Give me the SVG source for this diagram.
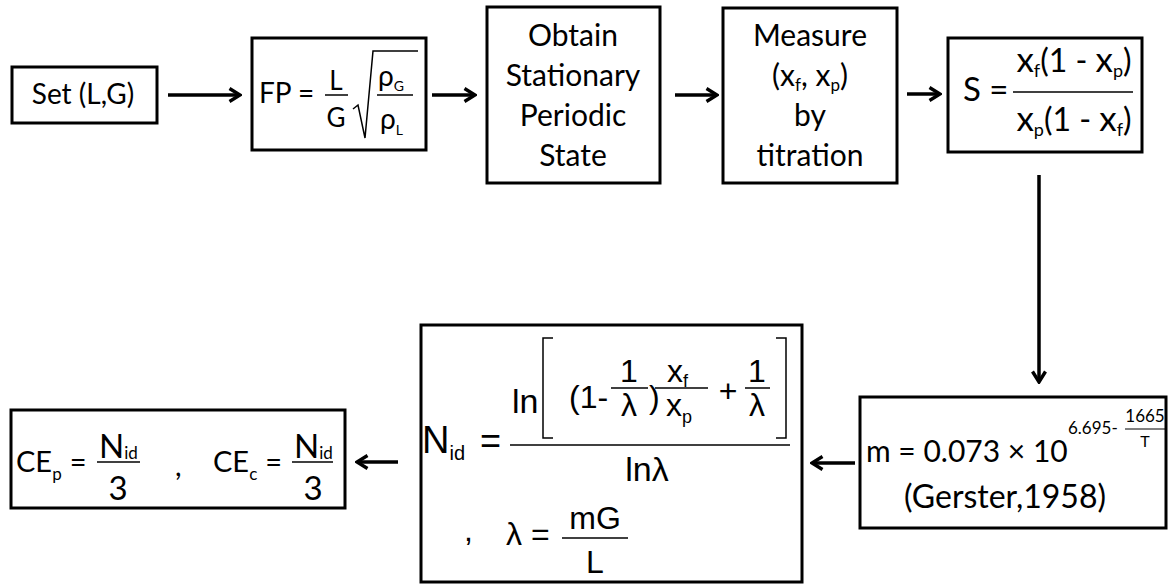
<svg xmlns="http://www.w3.org/2000/svg" width="1168" height="584" viewBox="0 0 1168 584">
<style>
.box{fill:#fff;stroke:#000;stroke-width:3}
.t{font-family:Lato,"Liberation Sans",sans-serif;fill:#000}
.a{font-family:"Liberation Sans",Arial,sans-serif;fill:#000}
.fl{stroke:#000;stroke-width:1.5;fill:none}
.conn{stroke:#000;stroke-width:3.5;fill:none}
</style>
<defs>
<marker id="ah" viewBox="0 0 14 16" refX="12" refY="8" markerWidth="14" markerHeight="16" markerUnits="userSpaceOnUse" orient="auto">
<path d="M1.5,1.5 L12,8 L1.5,14.5" fill="none" stroke="#000" stroke-width="3.4" stroke-linejoin="miter"/>
</marker>
</defs>
<rect width="1168" height="584" fill="#fff"/>
<g id="connectors">
<line class="conn" x1="168" y1="95" x2="240" y2="95" marker-end="url(#ah)"/>
<line class="conn" x1="432" y1="95" x2="475" y2="95" marker-end="url(#ah)"/>
<line class="conn" x1="675" y1="95" x2="717" y2="95" marker-end="url(#ah)"/>
<line class="conn" x1="907" y1="94" x2="940" y2="94" marker-end="url(#ah)"/>
<line class="conn" x1="1039" y1="175" x2="1039" y2="382" marker-end="url(#ah)"/>
<line class="conn" x1="855" y1="463" x2="812" y2="463" marker-end="url(#ah)"/>
<line class="conn" x1="398" y1="462" x2="357" y2="462" marker-end="url(#ah)"/>
</g>
<g id="set">
<rect class="box" x="12" y="67" width="145" height="56"/>
<text class="t" x="83" y="104" font-size="28" text-anchor="middle">Set (L,G)</text>
</g>
<g id="fp">
<rect class="box" x="252" y="38" width="174" height="112"/>
<text class="t" x="259" y="103" font-size="28">FP =</text>
<text class="t" x="336" y="90" font-size="26" text-anchor="middle">L</text>
<line class="fl" x1="325" y1="95" x2="348" y2="95"/>
<text class="t" x="336" y="127" font-size="26" text-anchor="middle">G</text>
<path class="fl" d="M353,109 L358,105 L365,138 L373,51 L418,51"/>
<text class="t" x="378" y="86" font-size="28">ρ<tspan font-size="14" dy="5">G</tspan></text>
<line class="fl" x1="377" y1="95" x2="413" y2="95"/>
<text class="t" x="380" y="129" font-size="28">ρ<tspan font-size="14" dy="6">L</tspan></text>
</g>
<g id="obtain">
<rect class="box" x="487" y="7" width="173" height="176"/>
<text class="t" font-size="30" text-anchor="middle"><tspan x="573" y="46">Obtain</tspan><tspan x="573" y="86">Stationary</tspan><tspan x="573" y="126">Periodic</tspan><tspan x="573" y="166">State</tspan></text>
</g>
<g id="measure">
<rect class="box" x="723" y="8" width="174" height="175"/>
<text class="t" font-size="30" text-anchor="middle"><tspan x="810" y="46">Measure</tspan></text>
<text class="t" font-size="30" text-anchor="middle" x="810" y="86">(x<tspan font-size="17" dy="5">f</tspan><tspan dy="-5">, x</tspan><tspan font-size="17" dy="5">p</tspan><tspan dy="-5">)</tspan></text>
<text class="t" font-size="30" text-anchor="middle"><tspan x="810" y="126">by</tspan><tspan x="810" y="166">titration</tspan></text>
</g>
<g id="sel">
<rect class="box" x="948" y="38" width="194" height="114"/>
<text class="t" x="963" y="101" font-size="33">S =</text>
<text class="t" x="1074" y="72" font-size="32" text-anchor="middle"><tspan font-size="35">x</tspan><tspan font-size="18" dy="5">f</tspan><tspan dy="-5">(1 - </tspan><tspan font-size="35">x</tspan><tspan font-size="18" dy="5">p</tspan><tspan dy="-5">)</tspan></text>
<line class="fl" x1="1013" y1="92" x2="1133" y2="92"/>
<text class="t" x="1074" y="131" font-size="32" text-anchor="middle"><tspan font-size="35">x</tspan><tspan font-size="18" dy="5">p</tspan><tspan dy="-5">(1 - </tspan><tspan font-size="35">x</tspan><tspan font-size="18" dy="5">f</tspan><tspan dy="-5">)</tspan></text>
</g>
<g id="mbox">
<rect class="box" x="860" y="397" width="306" height="131"/>
<text class="t" x="866" y="462" font-size="30">m = 0.073 × 10</text>
<text class="t" x="1068" y="434" font-size="17">6.695-</text>
<text class="t" x="1145" y="422" font-size="17" text-anchor="middle">1665</text>
<line stroke="#000" stroke-width="1" x1="1125" y1="429" x2="1165" y2="429"/>
<text class="t" x="1145" y="447" font-size="16" text-anchor="middle">T</text>
<text class="t" x="1005" y="508" font-size="32" text-anchor="middle">(Gerster,1958)</text>
</g>
<g id="nid">
<rect class="box" x="421" y="325" width="381" height="257"/>
<text class="a" x="422" y="453" font-size="38">N<tspan font-size="20" dy="7">id</tspan></text>
<text class="a" x="480" y="453" font-size="36">=</text>
<text class="a" x="512" y="413" font-size="34">ln</text>
<path class="fl" d="M553,338 L543,338 L543,438 L553,438"/>
<path class="fl" d="M776,338 L786,338 L786,438 L776,438"/>
<text class="a" x="569" y="408" font-size="32">(1-</text>
<line class="fl" x1="611" y1="388" x2="648" y2="388"/>
<text class="a" x="629" y="382" font-size="32" text-anchor="middle">1</text>
<text class="a" x="629" y="416" font-size="32" text-anchor="middle">λ</text>
<text class="a" x="649" y="408" font-size="32">)</text>
<line class="fl" x1="655" y1="388" x2="708" y2="388"/>
<text class="a" x="667" y="382" font-size="32">x<tspan font-size="18" dy="5">f</tspan></text>
<text class="a" x="666" y="416" font-size="32">x<tspan font-size="18" dy="7">p</tspan></text>
<text class="a" x="728" y="402" font-size="32" text-anchor="middle">+</text>
<line class="fl" x1="745" y1="388" x2="770" y2="388"/>
<text class="a" x="757" y="382" font-size="32" text-anchor="middle">1</text>
<text class="a" x="757" y="416" font-size="32" text-anchor="middle">λ</text>
<line class="fl" x1="510" y1="445" x2="790" y2="445" stroke-width="2"/>
<text class="a" x="647" y="481" font-size="34" text-anchor="middle">lnλ</text>
<text class="a" x="464" y="541" font-size="32">,</text>
<text class="a" x="506" y="545" font-size="32">λ =</text>
<line class="fl" x1="562" y1="538" x2="628" y2="538"/>
<text class="a" x="595" y="529" font-size="32" text-anchor="middle">mG</text>
<text class="a" x="595" y="573" font-size="32" text-anchor="middle">L</text>
</g>
<g id="ce">
<rect class="box" x="11" y="410" width="334" height="98"/>
<text class="t" x="16" y="472" font-size="29">CE<tspan font-size="17" dy="8">p</tspan><tspan dy="-8" dx="8">=</tspan></text>
<line class="fl" x1="97" y1="462" x2="140" y2="462"/>
<text class="t" x="99" y="458" font-size="33">N<tspan font-size="17" dy="1">id</tspan></text>
<text class="t" x="118" y="500" font-size="33" text-anchor="middle">3</text>
<text class="t" x="175" y="476" font-size="29">,</text>
<text class="t" x="213" y="472" font-size="29">CE<tspan font-size="17" dy="8">c</tspan><tspan dy="-8" dx="8">=</tspan></text>
<line class="fl" x1="292" y1="462" x2="333" y2="462"/>
<text class="t" x="294" y="458" font-size="33">N<tspan font-size="17" dy="1">id</tspan></text>
<text class="t" x="313" y="500" font-size="33" text-anchor="middle">3</text>
</g>
</svg>
